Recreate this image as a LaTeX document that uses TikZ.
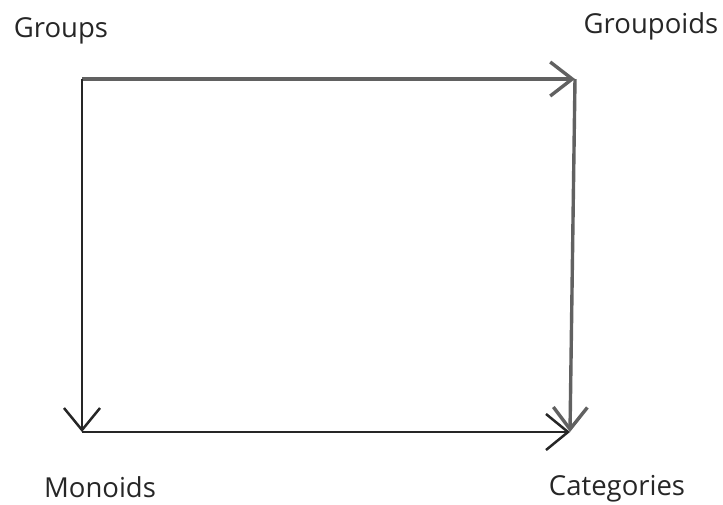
\documentclass[tikz,border=0pt]{standalone}
\usepackage{fontspec}
\setmainfont{Open Sans}
\usetikzlibrary{arrows.meta}
\begin{document}
\begin{tikzpicture}[x=1pt,y=-1pt,
  lbl/.style={font=\fontsize{27.5}{32}\selectfont, text=black!85, inner sep=0pt, anchor=base},
  arr/.style={-{Straight Barb[length=22pt,width=34pt]}, line width=3.4pt, draw=black!62},
  arrthin/.style={-{Straight Barb[length=22pt,width=36pt]}, line width=2.5pt, draw=black!85}]
\useasboundingbox (0,0) rectangle (723,504);
\node[lbl] (groups) at (61,37) {Groups};
\node[lbl] (groupoids) at (651,33) {Groupoids};
\node[lbl] (monoids) at (100,497) {Monoids};
\node[lbl] (categories) at (617,495) {Categories};
\coordinate (tl) at (82,79);
\coordinate (tr) at (575,79);
\coordinate (bl) at (82,432);
\coordinate (br) at (570,432);
\draw[arr] (tl) -- (tr);
\draw[arr] (tr) -- (br);
\draw[arrthin] (tl) -- (bl);
\draw[arrthin] (bl) -- (br);
\end{tikzpicture}
\end{document}
